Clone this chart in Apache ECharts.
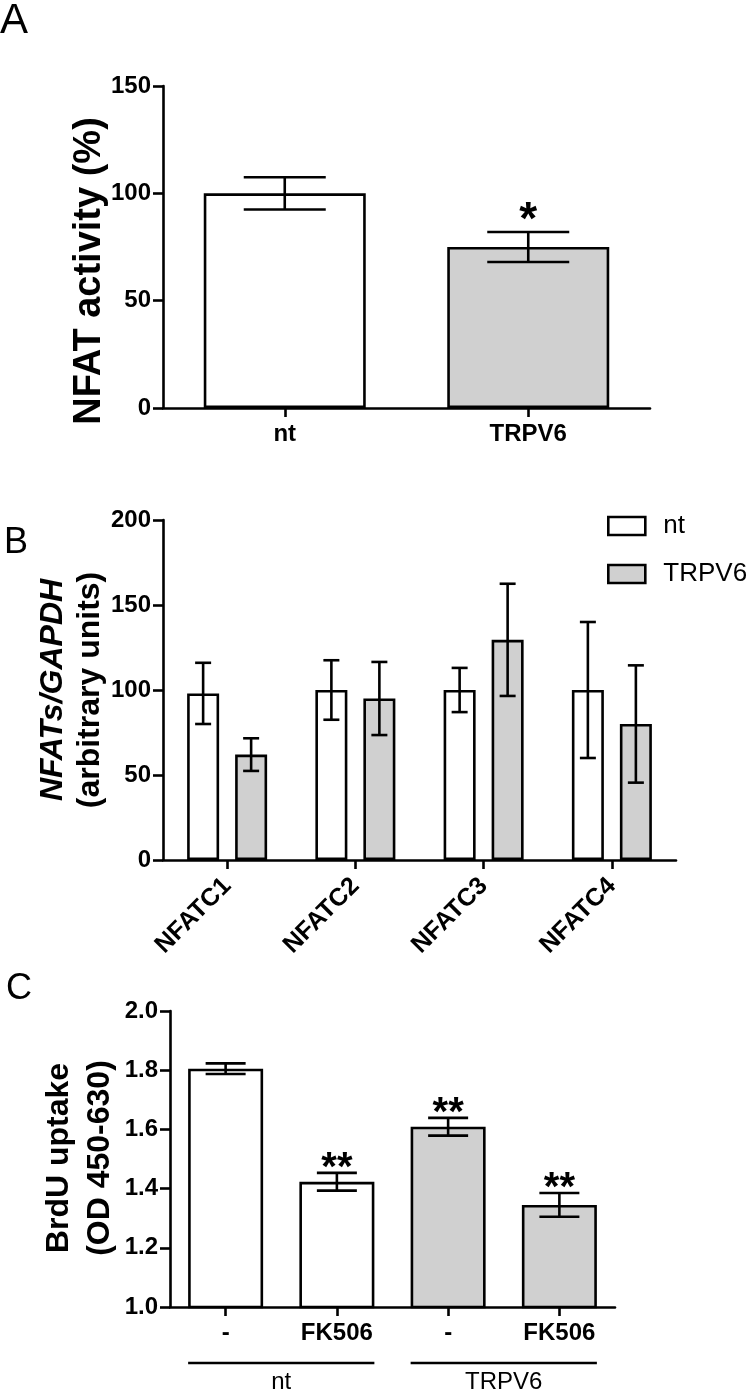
<!DOCTYPE html>
<html><head><meta charset="utf-8">
<script src="https://cdn.jsdelivr.net/npm/echarts@6/dist/echarts.min.js"></script>
<style>html,body{margin:0;padding:0;background:#fff}#c{width:748px;height:1390px}</style>
</head><body><div id="c"></div>
<script>
// ---- Panel A ----
const catsA = ['nt', 'TRPV6'];
const meanA = [100, 75];
const semA = [7.5, 7];
const sigA = ['', '*'];
const fillA = ['nt', 'TRPV6'];
const ticksA = {min: 0, max: 150, interval: 50};
// ---- Panel B ----
const catsB = ['NFATC1', 'NFATC2', 'NFATC3', 'NFATC4'];
const seriesNamesB = ['nt', 'TRPV6'];
const meanB_nt = [98, 100, 100, 100];
const semB_nt = [18, 17.5, 13, 40];
const meanB_tr = [62, 95, 129.5, 80];
const semB_tr = [9.6, 21.5, 33, 34.5];
const ticksB = {min: 0, max: 200, interval: 50};
// ---- Panel C ----
const catsC = ['-', 'FK506', '-', 'FK506'];
const meanC = [1.805, 1.423, 1.609, 1.345];
const semC = [0.018, 0.03, 0.03, 0.04];
const sigC = ['', '**', '**', '**'];
const fillC = ['nt', 'nt', 'TRPV6', 'TRPV6'];
const groupsC = [{name: 'nt', from: 0, to: 1}, {name: 'TRPV6', from: 2, to: 3}];
const ticksC = {min: 1.0, max: 2.0, interval: 0.2};

const FONT = "'Liberation Sans', Arial, Helvetica, sans-serif";
const COLORS = {nt: '#ffffff', TRPV6: '#d0d0d0'};
const LW = 2.6;

function errRender(offsetPx, capW, sig) {
  return function (params, api) {
    const x = api.value(0), m = api.value(1), e = api.value(2);
    const top = api.coord([x, m + e]);
    const bot = api.coord([x, m - e]);
    const cx = top[0] + offsetPx;
    const st = {stroke: '#000', lineWidth: LW};
    const children = [
      {type: 'line', shape: {x1: cx, y1: top[1], x2: cx, y2: bot[1]}, style: st},
      {type: 'line', shape: {x1: cx - capW / 2, y1: top[1], x2: cx + capW / 2, y2: top[1]}, style: st},
      {type: 'line', shape: {x1: cx - capW / 2, y1: bot[1], x2: cx + capW / 2, y2: bot[1]}, style: st}
    ];
    if (sig && sig[params.dataIndex]) {
      const big = sig[params.dataIndex].length === 1;
      children.push({type: 'text', x: cx, y: top[1] + (big ? 12 : 16), style: {
        text: sig[params.dataIndex], fill: '#000', align: 'center', verticalAlign: 'bottom',
        font: 'bold ' + (big ? 46 : 40) + 'px ' + FONT}});
    }
    return {type: 'group', children: children};
  };
}

function axisY(t, grid, fmt) {
  return {type: 'value', gridIndex: grid, min: t.min, max: t.max, interval: t.interval,
    splitLine: {show: false},
    axisLine: {show: true, lineStyle: {color: '#000', width: LW}},
    axisTick: {show: true, length: 10, lineStyle: {color: '#000', width: LW}},
    axisLabel: {color: '#000', fontFamily: FONT, fontWeight: 'bold', fontSize: 24, margin: 12, formatter: fmt}};
}
function axisX(cats, grid, extra) {
  return Object.assign({type: 'category', gridIndex: grid, data: cats,
    axisLine: {show: true, onZero: false, lineStyle: {color: '#000', width: LW}},
    axisTick: {show: true, length: 9, alignWithLabel: true, lineStyle: {color: '#000', width: LW}},
    axisLabel: {color: '#000', fontFamily: FONT, fontWeight: 'bold', fontSize: 24, margin: 14}}, extra || {});
}

const chart = echarts.init(document.getElementById('c'), null, {renderer: 'canvas'});
const barBorder = {borderColor: '#000', borderWidth: LW};

chart.setOption({
  animation: false,
  backgroundColor: '#fff',
  grid: [
    {left: 163, right: 98, top: 86, bottom: 982},
    {left: 163, right: 72, top: 520, bottom: 530},
    {left: 170, right: 133, top: 1011, bottom: 83}
  ],
  xAxis: [
    axisX(catsA, 0),
    axisX(catsB, 1, {axisLabel: {color: '#000', fontFamily: FONT, fontWeight: 'bold', fontSize: 25, margin: 22, rotate: 45}}),
    axisX(catsC, 2)
  ],
  yAxis: [
    axisY(ticksA, 0),
    axisY(ticksB, 1),
    axisY(ticksC, 2, v => v.toFixed(1))
  ],
  legend: {
    data: seriesNamesB, orient: 'vertical', left: 602, top: 508,
    itemWidth: 37, itemHeight: 18, itemGap: 22, icon: 'rect',
    itemStyle: {borderColor: '#000', borderWidth: LW},
    textStyle: {color: '#000', fontFamily: FONT, fontSize: 26, padding: [0, 0, 0, 13]}
  },
  graphic: [
    {type: 'text', left: 0, top: 0, style: {text: 'A', font: '42px ' + FONT, fill: '#000'}},
    {type: 'text', x: 4, y: 525, style: {text: 'B', font: '36px ' + FONT, fill: '#000'}},
    {type: 'text', x: 6, y: 971, style: {text: 'C', font: '36px ' + FONT, fill: '#000'}},
    {type: 'text', x: 90, y: 271, rotation: Math.PI / 2, style: {text: 'NFAT activity (%)',
      font: 'bold 38px ' + FONT, fill: '#000', align: 'center', verticalAlign: 'middle'}},
    {type: 'text', x: 72, y: 690, rotation: Math.PI / 2, style: {
      text: '{a|NFATs/GAPDH}\n{b|(arbitrary units)}', align: 'center', verticalAlign: 'middle',
      rich: {a: {font: 'italic bold 32px ' + FONT, fill: '#000', lineHeight: 37, align: 'center'},
             b: {font: 'bold 32px ' + FONT, fill: '#000', lineHeight: 37, align: 'center'}}}},
    {type: 'text', x: 80, y: 1158, rotation: Math.PI / 2, style: {
      text: '{a|BrdU uptake}\n{a|(OD 450-630)}', align: 'center', verticalAlign: 'middle',
      rich: {a: {font: 'bold 32px ' + FONT, fill: '#000', lineHeight: 41, align: 'center'}}}}
  ],
  series: [
    {name: 'panelA', type: 'bar', xAxisIndex: 0, yAxisIndex: 0, barWidth: 162,
      data: meanA.map((v, i) => ({value: v, itemStyle: Object.assign({color: COLORS[fillA[i]]}, barBorder)}))},
    {name: 'errA', type: 'custom', xAxisIndex: 0, yAxisIndex: 0, z: 5, clip: false,
      renderItem: errRender(0, 82, sigA), data: meanA.map((v, i) => [i, v, semA[i]])},

    {name: 'nt', type: 'bar', xAxisIndex: 1, yAxisIndex: 1, barWidth: 32, barGap: '50%',
      itemStyle: Object.assign({color: COLORS.nt}, barBorder), data: meanB_nt},
    {name: 'TRPV6', type: 'bar', xAxisIndex: 1, yAxisIndex: 1, barWidth: 32, barGap: '50%',
      itemStyle: Object.assign({color: COLORS.TRPV6}, barBorder), data: meanB_tr},
    {name: 'errBnt', type: 'custom', xAxisIndex: 1, yAxisIndex: 1, z: 5, clip: false,
      renderItem: errRender(-24, 16), data: meanB_nt.map((v, i) => [i, v, semB_nt[i]])},
    {name: 'errBtr', type: 'custom', xAxisIndex: 1, yAxisIndex: 1, z: 5, clip: false,
      renderItem: errRender(24, 16), data: meanB_tr.map((v, i) => [i, v, semB_tr[i]])},

    {name: 'panelC', type: 'bar', xAxisIndex: 2, yAxisIndex: 2, barWidth: 75,
      data: meanC.map((v, i) => ({value: v, itemStyle: Object.assign({color: COLORS[fillC[i]]}, barBorder)}))},
    {name: 'errC', type: 'custom', xAxisIndex: 2, yAxisIndex: 2, z: 5, clip: false,
      renderItem: errRender(0, 40, sigC), data: meanC.map((v, i) => [i, v, semC[i]])},
    {name: 'groupsC', type: 'custom', xAxisIndex: 2, yAxisIndex: 2, z: 5, clip: false,
      encode: {x: 0, y: 1},
      renderItem: function (params, api) {
        const a = api.coord([api.value(0), ticksC.min]);
        const b = api.coord([api.value(2), ticksC.min]);
        const hw = 37.5;
        const y = a[1] + 56;
        return {type: 'group', children: [
          {type: 'line', shape: {x1: a[0] - hw, y1: y, x2: b[0] + hw, y2: y}, style: {stroke: '#000', lineWidth: LW}},
          {type: 'text', x: (a[0] + b[0]) / 2, y: y + 19, style: {text: groupsC[params.dataIndex].name,
            font: '24px ' + FONT, fill: '#000', align: 'center', verticalAlign: 'middle'}}
        ]};
      },
      data: groupsC.map(g => [g.from, ticksC.min, g.to])}
  ]
});
</script></body></html>
